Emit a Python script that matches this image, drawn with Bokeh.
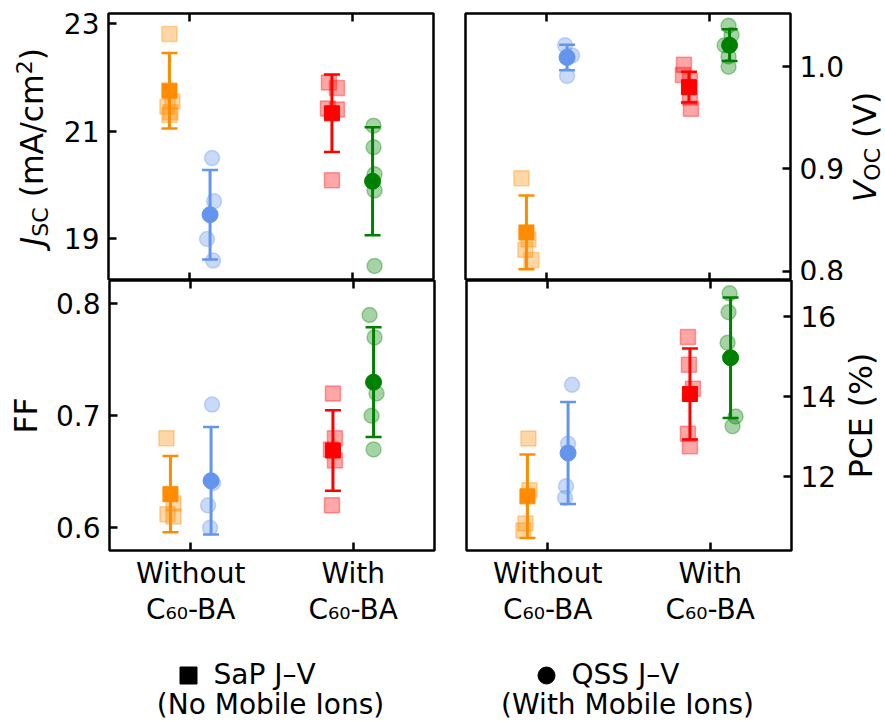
import numpy as np
from bokeh.plotting import figure
from bokeh.layouts import column, row
from bokeh.models import (ColumnDataSource, Range1d, LinearAxis, FixedTicker,
                          PrintfTickFormatter, Whisker, TeeHead)
from bokeh.core.properties import value
from bokeh.embed import file_html
from bokeh.resources import INLINE

FONT = "DejaVu Sans"

# ---------------------------------------------------------------- data
categories = ["Without\nC\u2086\u2080-BA", "With\nC\u2086\u2080-BA"]
cat_x = [0, 1]

# each list: [without C60-BA, with C60-BA]
jsc_sap = [[22.80, 21.55, 21.45, 21.35, 21.30], [21.90, 21.80, 21.42, 21.40, 20.09]]
jsc_qss = [[20.50, 19.70, 19.00, 18.60], [21.10, 20.70, 20.20, 19.90, 18.50]]
jsc_sap_mean = [21.75, 21.33]
jsc_sap_std = [0.70, 0.72]
jsc_qss_mean = [19.45, 20.07]
jsc_qss_std = [0.83, 1.00]

voc_sap = [[0.891, 0.831, 0.821, 0.811], [1.002, 0.992, 0.986, 0.970, 0.959]]
voc_qss = [[1.021, 1.011, 1.010, 0.991], [1.040, 1.031, 1.021, 1.010, 1.000]]
voc_sap_mean = [0.838, 0.980]
voc_sap_std = [0.036, 0.015]
voc_qss_mean = [1.009, 1.021]
voc_qss_std = [0.0125, 0.0155]

ff_sap = [[0.680, 0.622, 0.612, 0.610], [0.720, 0.680, 0.670, 0.660, 0.620]]
ff_qss = [[0.710, 0.640, 0.620, 0.600], [0.790, 0.770, 0.720, 0.700, 0.670]]
ff_sap_mean = [0.630, 0.669]
ff_sap_std = [0.034, 0.036]
ff_qss_mean = [0.642, 0.730]
ff_qss_std = [0.048, 0.049]

pce_sap = [[12.95, 11.66, 10.83, 10.66], [15.48, 14.79, 14.19, 13.07, 12.76]]
pce_qss = [[14.29, 12.82, 11.76, 11.47], [16.57, 16.10, 15.34, 13.50, 13.26]]
pce_sap_mean = [11.51, 14.06]
pce_sap_std = [1.04, 1.135]
pce_qss_mean = [12.59, 14.965]
pce_qss_std = [1.27, 1.50]

# small horizontal spread of the individual devices (pixels)
jsc_sap_dx = [[0, 3, -2, 1, 0], [-3, 5, -4, 5, 0]]
jsc_qss_dx = [[2, 4, -3, 3], [1, 1, 2, 2, 2]]
voc_sap_dx = [[-5, 2, -1, 5], [-5, -6, 1, 1, 2]]
voc_qss_dx = [[-2, 5, 0, 0], [-1, 2, -5, -1, -1]]
ff_sap_dx = [[-4, 3, -3, 3], [0, 2, -2, 2, -1]]
ff_qss_dx = [[1, 2, -3, -1], [-4, 1, 3, -2, 0]]
pce_sap_dx = [[1, 2, -2, -4], [-2, -1, 3, -2, 0]]
pce_qss_dx = [[4, 0, -2, -3], [-1, -2, -3, 5, 2]]

sap_colors = ["darkorange", "red"]
qss_colors = ["cornflowerblue", "green"]
method_shift = 0.125

# ---------------------------------------------------------------- layout
FRAME_W = 325
X_LO, X_HI = -0.5, 1.5
PX = (X_HI - X_LO) / FRAME_W
TICK_SIZE = "28px"
LABEL_SIZE = 31.5
MID_TO_BASE = 0.37   # distance from a "middle" anchor to the baseline, in em

ADV = {'J': 0.295, 'S': 0.635, 'C': 0.698, ' ': 0.318, '(': 0.390, ')': 0.390,
       'm': 0.974, 'A': 0.684, '/': 0.337, 'c': 0.550, '2': 0.636, 'V': 0.684,
       'O': 0.787, 'F': 0.575, 'P': 0.603, 'E': 0.632, '%': 0.950}


def style_axis(ax, show_labels, standoff=9):
    ax.axis_line_color = None
    ax.major_tick_in = 8
    ax.major_tick_out = 0
    ax.major_tick_line_width = 2.5
    ax.major_tick_line_color = "black"
    ax.minor_tick_line_color = None
    ax.major_label_text_font = FONT
    ax.major_label_text_color = "black"
    if show_labels:
        ax.major_label_text_font_size = TICK_SIZE
        ax.major_label_standoff = standoff
    else:
        # tick marks only
        ax.major_label_overrides = {c: "" for c in cat_x}
        ax.major_label_text_font_size = "1px"
        ax.major_label_standoff = 0


def panel(y_lo, y_hi, yticks, yfmt, side, frame_h, borders, cat_labels,
          sap, sap_dx, sap_mean, sap_std, qss, qss_dx, qss_mean, qss_std):
    top, bottom, left, right = borders
    p = figure(frame_width=FRAME_W, frame_height=frame_h,
               x_range=Range1d(X_LO, X_HI), y_range=Range1d(y_lo, y_hi),
               x_axis_location=None, y_axis_location=None,
               min_border_top=top, min_border_bottom=bottom,
               min_border_left=left, min_border_right=right,
               toolbar_location=None, output_backend="svg")
    p.grid.visible = False
    p.outline_line_color = "black"
    p.outline_line_width = 2.5
    p.background_fill_color = "white"
    p.border_fill_color = "white"

    yax = LinearAxis(ticker=FixedTicker(ticks=yticks),
                     formatter=PrintfTickFormatter(format=yfmt))
    style_axis(yax, True, 9)
    p.add_layout(yax, side)

    for loc in ("above", "below"):
        xax = LinearAxis(ticker=FixedTicker(ticks=cat_x))
        show = cat_labels and loc == "below"
        style_axis(xax, show, 6)
        if show:
            xax.major_label_overrides = {c: lab for c, lab in zip(cat_x, categories)}
            xax.major_label_text_line_height = 1.1
        p.add_layout(xax, loc)

    groups = [(sap, sap_dx, sap_mean, sap_std, sap_colors, "square", -method_shift),
              (qss, qss_dx, qss_mean, qss_std, qss_colors, "circle", method_shift)]
    for vals, dxs, means, stds, colors, marker, shift in groups:
        for ci, cx in enumerate(cat_x):
            xc = cx + shift
            pts = ColumnDataSource(dict(
                x=[xc + d * PX for d in dxs[ci]], y=vals[ci]))
            p.scatter("x", "y", source=pts, marker=marker, size=15,
                      fill_color=colors[ci], fill_alpha=0.35,
                      line_color=colors[ci], line_alpha=0.35, line_width=1.5)
            err = ColumnDataSource(dict(x=[xc], upper=[means[ci] + stds[ci]],
                                        lower=[means[ci] - stds[ci]]))
            p.add_layout(Whisker(base="x", upper="upper", lower="lower", source=err,
                                 dimension="height", level="glyph",
                                 line_color=colors[ci], line_width=3,
                                 upper_head=TeeHead(size=16, line_color=colors[ci], line_width=2.5),
                                 lower_head=TeeHead(size=16, line_color=colors[ci], line_width=2.5)))
            m = ColumnDataSource(dict(x=[xc], y=[means[ci]]))
            p.scatter("x", "y", source=m, marker=marker, size=15 if marker == "square" else 16,
                      fill_color=colors[ci], line_color=colors[ci], line_width=1)
    return p


def blank(width, frame_h, top=0, bottom=0):
    f = figure(frame_width=width, frame_height=frame_h,
               x_range=Range1d(0, width), y_range=Range1d(0, frame_h),
               min_border_left=0, min_border_right=0,
               min_border_top=top, min_border_bottom=bottom,
               x_axis_location=None, y_axis_location=None,
               toolbar_location=None, output_backend="svg")
    f.grid.visible = False
    f.outline_line_color = None
    return f


def label_strip(width, frame_h, top, bottom, pieces, base_x):
    """Vertical (bottom-to-top) axis title centred on a panel, built from
    (text, scale, italic, shift) pieces; shift moves a piece below (+) or above (-)
    the common baseline base_x."""
    f = blank(width, frame_h, top, bottom)
    adv = lambda t, size: sum(ADV[c] for c in t) * size
    total = sum(adv(t, LABEL_SIZE * s) for t, s, _, _ in pieces)
    y = frame_h / 2 - total / 2
    for t, s, italic, shift in pieces:
        size = LABEL_SIZE * s
        lead = len(t) - len(t.lstrip(" "))
        f.text(x=[base_x + shift - MID_TO_BASE * size], y=[y + adv(t[:lead], size)],
               text=[t.strip(" ")], angle=np.pi / 2,
               text_font=value(FONT), text_font_size=value(f"{size:.1f}px"),
               text_font_style=value("italic" if italic else "normal"),
               text_align="left", text_baseline="middle", text_color="black")
        y += adv(t, size)
    return f


TOP_H, BOT_H = 267, 270
TOP_PAD, BOT_PAD = 13, 90
LEFT_STRIP = 52
VOC_AXIS_W, PCE_AXIS_W = 54, 46          # room for the right-hand tick labels
VOC_STRIP = 885 - (LEFT_STRIP + 56 + FRAME_W + 16 + 16 + FRAME_W + VOC_AXIS_W)
PCE_STRIP = 885 - (LEFT_STRIP + 56 + FRAME_W + 16 + 16 + FRAME_W + PCE_AXIS_W)

p_jsc = panel(18.23, 23.18, [19, 21, 23], "%d", "left", TOP_H, (TOP_PAD, 0, 56, 16), False,
              jsc_sap, jsc_sap_dx, jsc_sap_mean, jsc_sap_std,
              jsc_qss, jsc_qss_dx, jsc_qss_mean, jsc_qss_std)
p_voc = panel(0.791, 1.052, [0.8, 0.9, 1.0], "%.1f", "right", TOP_H,
              (TOP_PAD, 0, 16, VOC_AXIS_W), False,
              voc_sap, voc_sap_dx, voc_sap_mean, voc_sap_std,
              voc_qss, voc_qss_dx, voc_qss_mean, voc_qss_std)
p_ff = panel(0.5797, 0.8208, [0.6, 0.7, 0.8], "%.1f", "left", BOT_H, (0, BOT_PAD, 56, 16), True,
             ff_sap, ff_sap_dx, ff_sap_mean, ff_sap_std,
             ff_qss, ff_qss_dx, ff_qss_mean, ff_qss_std)
p_pce = panel(10.16, 16.89, [12, 14, 16], "%d", "right", BOT_H,
              (0, BOT_PAD, 16, PCE_AXIS_W), True,
              pce_sap, pce_sap_dx, pce_sap_mean, pce_sap_std,
              pce_qss, pce_qss_dx, pce_qss_mean, pce_qss_std)

jsc_title = label_strip(LEFT_STRIP, TOP_H, TOP_PAD, 0,
                        [("J", 1, True, 0), ("SC", 0.7, False, 5), (" (mA/cm", 1, False, 0),
                         ("2", 0.7, False, -11), (")", 1, False, 0)], 43)
voc_title = label_strip(VOC_STRIP, TOP_H, TOP_PAD, 0,
                        [("V", 1, True, 0), ("OC", 0.7, False, 4), (" (V)", 1, False, 0)],
                        VOC_STRIP - 12)
ff_title = label_strip(LEFT_STRIP, BOT_H, 0, BOT_PAD, [("FF", 1, False, 0)], 37)
pce_title = label_strip(PCE_STRIP, BOT_H, 0, BOT_PAD, [("PCE (%)", 1, False, 0)],
                        PCE_STRIP - 16)

# ---------------------------------------------------------------- legend strip
leg_h = 82
leg = blank(885, leg_h)
legend_items = [("square", "SaP J\u2013V", "(No Mobile Ions)", 188, 270),
                ("circle", "QSS J\u2013V", "(With Mobile Ions)", 546, 627)]
for marker, name, note, mx, cx in legend_items:
    leg.scatter([mx], [47], marker=marker, size=17, color="black")
    leg.text([mx + 25], [48], text=[name], text_font=value(FONT), text_font_size=value("28px"),
             text_align="left", text_baseline="middle", text_color="black")
    leg.text([cx], [18], text=[note], text_font=value(FONT), text_font_size=value("28px"),
             text_align="center", text_baseline="middle", text_color="black")

layout = column(row(jsc_title, p_jsc, p_voc, voc_title, spacing=0),
                row(ff_title, p_ff, p_pce, pce_title, spacing=0),
                leg, spacing=0)

with open("out.html", "w") as f:
    f.write(file_html(layout, INLINE))
